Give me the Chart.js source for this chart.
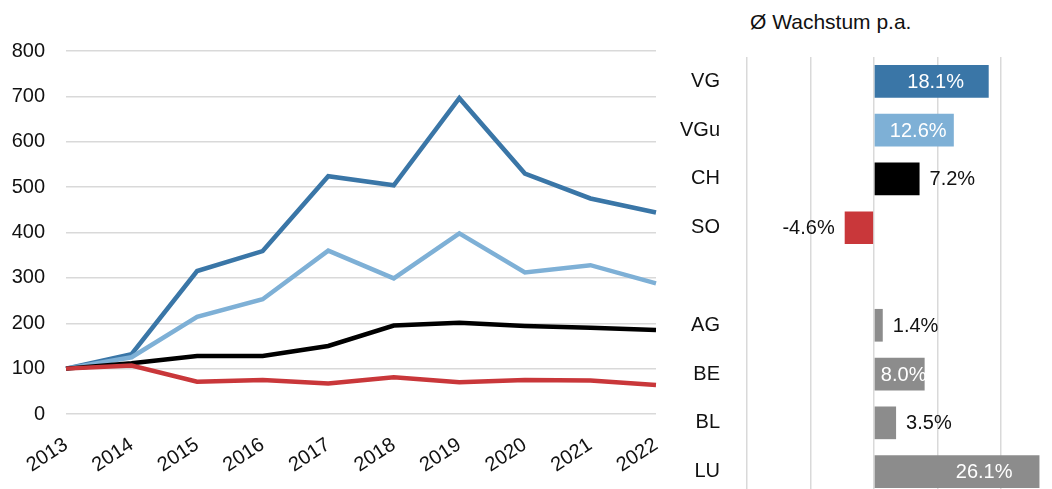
<!DOCTYPE html>
<html>
<head>
<meta charset="utf-8">
<script src="https://cdn.jsdelivr.net/npm/chart.js@4.4.1/dist/chart.umd.min.js"></script>
<style>
  html, body { margin: 0; padding: 0; background: #fff; overflow: hidden; width: 1052px; height: 489px; }
  #lineWrap { position: absolute; left: 0; top: 0; width: 670px; height: 489px; }
  #barWrap { position: absolute; left: 680px; top: 0; width: 372px; height: 510px; }
  #barTitle { position: absolute; left: 750px; top: 10px; font-family: "Liberation Sans", Arial, sans-serif; font-size: 21px; color: #111; white-space: nowrap; }
</style>
</head>
<body>
<div id="lineWrap"><canvas id="lineChart" width="670" height="489"></canvas></div>
<div id="barTitle">Ø Wachstum p.a.</div>
<div id="barWrap"><canvas id="barChart" width="372" height="510"></canvas></div>
<script>
// ---- Data ----
const years = ['2013','2014','2015','2016','2017','2018','2019','2020','2021','2022'];
const vgIndex  = [100, 132, 315, 359, 524, 504, 696, 530, 475, 444];
const vguIndex = [100, 125, 214, 253, 360, 299, 398, 312, 328, 288];
const chIndex  = [100, 112, 128, 128, 150, 195, 201, 194, 190, 185];
const soIndex  = [100, 107,  71,  75,  67,  81,  70,  75,  74,  64];
const yTicks   = [0, 100, 200, 300, 400, 500, 600, 700, 800];

const regions      = ['VG', 'VGu', 'CH', 'SO', '', 'AG', 'BE', 'BL', 'LU'];
const growth       = [18.1, 12.6, 7.2, -4.6, null, 1.4, 8.0, 3.5, 26.1];
const growthLabels = ['18.1%', '12.6%', '7.2%', '-4.6%', '', '1.4%', '8.0%', '3.5%', '26.1%'];
const gridValues   = [-20, -10, 0, 10, 20];

// ---- Styles ----
const FONT = '"Liberation Sans", Arial, sans-serif';
const FS = 20;
const C_VG = '#3a76a7', C_VGU = '#7eb0d6', C_CH = '#000000', C_SO = '#c9373a', C_GREY = '#8c8c8c';
const GRID = '#d9d9d9';
const barColors = [C_VG, C_VGU, C_CH, C_SO, C_GREY, C_GREY, C_GREY, C_GREY, C_GREY];
const labelPlacement = ['center', 'center', 'outside', 'outside', null, 'outside', 'center', 'outside', 'end'];
const labelColors = ['#fff', '#fff', '#111', '#111', '#111', '#111', '#fff', '#111', '#fff'];

Chart.defaults.font.family = FONT;
Chart.defaults.color = '#111';

const noPad = s => { s.paddingLeft = 0; s.paddingRight = 0; s.paddingTop = 0; s.paddingBottom = 0; };

// ---- Line chart ----
new Chart(document.getElementById('lineChart'), {
  type: 'line',
  data: {
    labels: years,
    datasets: [
      { label: 'VG', data: vgIndex, borderColor: C_VG, order: 4 },
      { label: 'VGu', data: vguIndex, borderColor: C_VGU, order: 3 },
      { label: 'CH', data: chIndex, borderColor: C_CH, order: 2 },
      { label: 'SO', data: soIndex, borderColor: C_SO, order: 1 }
    ].map(d => Object.assign(d, { borderWidth: 4.5, pointRadius: 0, tension: 0, fill: false, borderJoinStyle: 'miter' }))
  },
  options: {
    responsive: false,
    animation: false,
    layout: { padding: { top: 51, right: 14, left: 0, bottom: 0 } },
    plugins: { legend: { display: false }, tooltip: { enabled: false } },
    scales: {
      x: {
        type: 'category',
        offset: false,
        grid: { display: false },
        border: { display: false },
        ticks: { font: { size: FS }, color: '#111', minRotation: 33, maxRotation: 33, padding: 11, autoSkip: false },
        afterFit: s => { s.height = 75; noPad(s); }
      },
      y: {
        min: 0, max: 800,
        afterBuildTicks: s => { s.ticks = yTicks.map(v => ({ value: v })); },
        grid: { color: GRID, lineWidth: 1.5, drawTicks: false },
        border: { display: false },
        ticks: { font: { size: FS }, color: '#111', padding: 21 },
        afterFit: s => { s.width = 66; noPad(s); }
      }
    }
  }
});

// ---- Bar chart ----
const barLabelPlugin = {
  id: 'barLabels',
  afterDatasetsDraw(chart) {
    const ctx = chart.ctx;
    const meta = chart.getDatasetMeta(0);
    ctx.save();
    ctx.font = FS + 'px ' + FONT;
    ctx.textBaseline = 'middle';
    meta.data.forEach((bar, i) => {
      const v = growth[i];
      if (v === null || !growthLabels[i]) return;
      const { x, y, base } = bar.getProps(['x', 'y', 'base'], true);
      const w = ctx.measureText(growthLabels[i]).width;
      let tx;
      const mode = labelPlacement[i];
      if (mode === 'center') {
        tx = (x + base) / 2 + 4 - w / 2;
      } else if (mode === 'end') {
        tx = x - 27 - w;
      } else {
        tx = v >= 0 ? x + 10 : x - 10 - w;
      }
      ctx.fillStyle = labelColors[i];
      ctx.textAlign = 'left';
      ctx.fillText(growthLabels[i], tx, y + 1);
    });
    ctx.restore();
  }
};

new Chart(document.getElementById('barChart'), {
  type: 'bar',
  data: {
    labels: regions,
    datasets: [{
      data: growth,
      backgroundColor: barColors,
      borderWidth: 0,
      categoryPercentage: 1,
      barPercentage: 0.67
    }]
  },
  options: {
    indexAxis: 'y',
    responsive: false,
    animation: false,
    layout: { padding: { top: 57, right: 10, left: 0, bottom: 14 } },
    plugins: { legend: { display: false }, tooltip: { enabled: false } },
    scales: {
      x: {
        min: -20, max: 26.5,
        afterBuildTicks: s => { s.ticks = gridValues.map(v => ({ value: v })); },
        grid: { color: GRID, lineWidth: 1.5, drawTicks: false },
        border: { display: false },
        ticks: { display: false },
        afterFit: s => { s.height = 0; noPad(s); }
      },
      y: {
        grid: { display: false },
        border: { display: false },
        ticks: { font: { size: FS }, color: '#111', padding: 19 },
        afterFit: s => { s.width = 67; noPad(s); }
      }
    }
  },
  plugins: [barLabelPlugin]
});
</script>
</body>
</html>
